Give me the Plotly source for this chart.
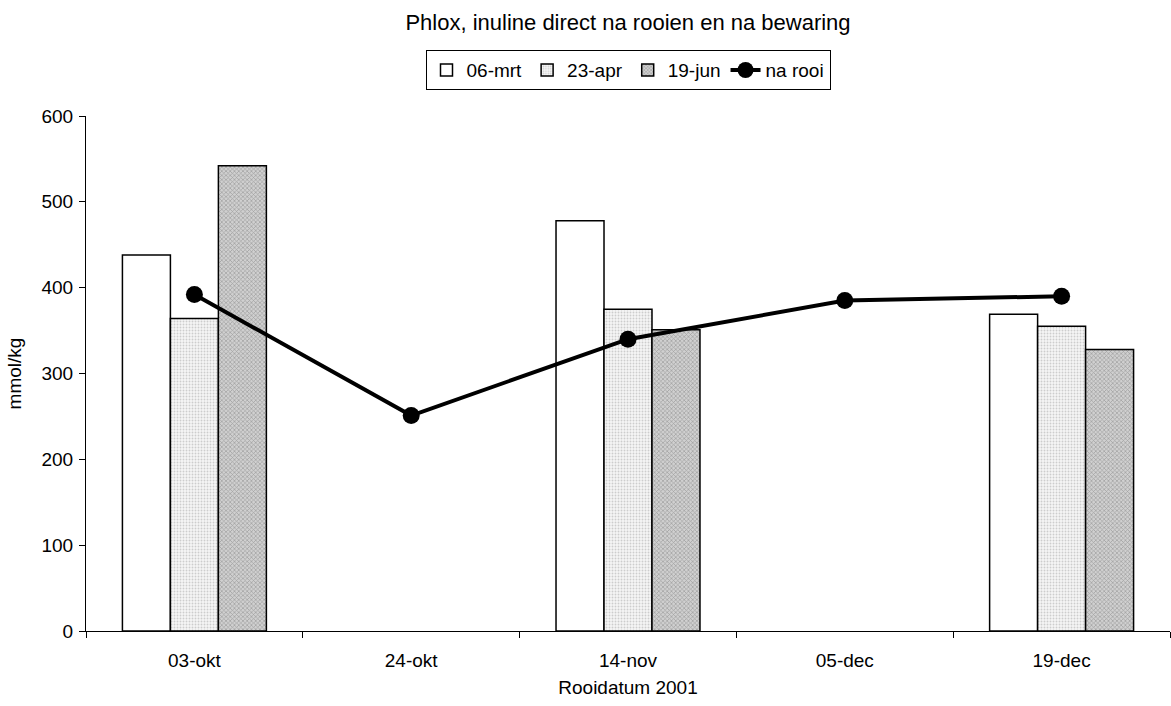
import plotly.graph_objects as go

# Rooidatum (harvest dates)
dates = ["03-okt", "24-okt", "14-nov", "05-dec", "19-dec"]

# Inulin after storage, per storage end date (mmol/kg)
mrt06 = [438, None, 478, None, 369]
apr23 = [364, None, 375, None, 355]
jun19 = [542, None, 351, None, 328]

# Inulin directly at harvest (mmol/kg)
na_rooi = [392, 251, 340, 385, 390]

FONT = "Liberation Sans, Arial, sans-serif"

fig = go.Figure()

fig.add_trace(go.Bar(
    name="06-mrt", x=dates, y=mrt06,
    marker=dict(color="white", line=dict(color="black", width=1.5)),
))
fig.add_trace(go.Bar(
    name="23-apr", x=dates, y=apr23,
    marker=dict(
        color="#eeeeee",
        line=dict(color="black", width=1.5),
        pattern=dict(shape=".", size=3, solidity=0.3,
                     fgcolor="#cdcdcd", bgcolor="#f6f6f6", fillmode="replace"),
    ),
))
fig.add_trace(go.Bar(
    name="19-jun", x=dates, y=jun19,
    marker=dict(
        color="#bdbdbd",
        line=dict(color="black", width=1.5),
        pattern=dict(shape="x", size=3, solidity=0.4,
                     fgcolor="#9e9e9e", bgcolor="#d0d0d0", fillmode="replace"),
    ),
))
fig.add_trace(go.Scatter(
    name="na rooi", x=dates, y=na_rooi, mode="lines+markers",
    line=dict(color="black", width=4),
    marker=dict(color="black", size=17),
))

fig.update_layout(
    width=1171, height=706,
    margin=dict(l=86, r=1, t=116, b=75),
    paper_bgcolor="white", plot_bgcolor="white",
    font=dict(family=FONT, size=19, color="black"),
    title=dict(text="Phlox, inuline direct na rooien en na bewaring",
               x=0.5, xref="paper", y=0.968, yanchor="middle",
               font=dict(size=22)),
    barmode="group", bargap=0.336, bargroupgap=0,
    showlegend=True,
    legend=dict(orientation="h", x=0.5, xanchor="center", y=1.089, yanchor="middle",
                bordercolor="black", borderwidth=1, bgcolor="white",
                font=dict(size=19), itemwidth=30, tracegroupgap=0,
                traceorder="normal"),
    xaxis=dict(
        title=dict(text="Rooidatum 2001", standoff=10, font=dict(size=19)),
        showline=True, linecolor="black", linewidth=1,
        ticks="outside", ticklen=6, tickcolor="black",
        ticklabelstandoff=12,
        tickson="boundaries", showgrid=False,
    ),
    yaxis=dict(
        title=dict(text="mmol/kg", standoff=14, font=dict(size=19)),
        range=[0, 600], dtick=100,
        showline=True, linecolor="black", linewidth=1,
        ticks="outside", ticklen=6, tickcolor="black",
        ticklabelstandoff=2,
        showgrid=False, zeroline=False,
    ),
)

fig.write_html("out.html")
